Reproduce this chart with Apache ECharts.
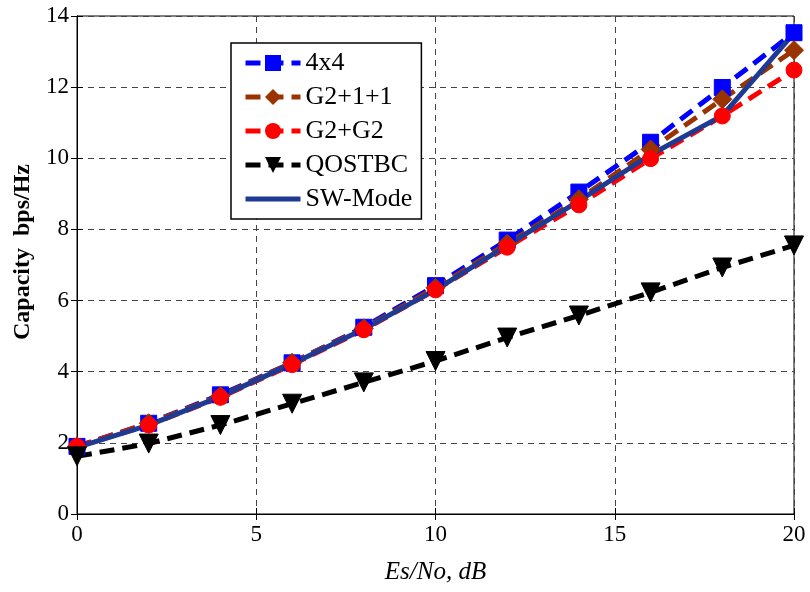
<!DOCTYPE html>
<html>
<head>
<meta charset="utf-8">
<script src="https://cdn.jsdelivr.net/npm/echarts@6/dist/echarts.min.js"></script>
<style>
  html, body { margin: 0; padding: 0; background: #fff; }
  #chart { width: 810px; height: 592px; }
</style>
</head>
<body>
<div id="chart"></div>
<script>
// Es/No sweep (dB)
const esNo = [0, 2, 4, 6, 8, 10, 12, 14, 16, 18, 20];

// Capacity (bps/Hz) per scheme
const cap4x4    = [1.90, 2.55, 3.35, 4.25, 5.25, 6.42, 7.70, 9.05, 10.45, 11.99, 13.53];
const capG211   = [1.90, 2.55, 3.32, 4.25, 5.22, 6.36, 7.60, 8.85, 10.25, 11.66, 13.04];
const capG2G2   = [1.90, 2.50, 3.28, 4.20, 5.18, 6.30, 7.50, 8.69, 9.99, 11.19, 12.48];
const capQOSTBC = [1.62, 1.98, 2.50, 3.10, 3.70, 4.30, 4.96, 5.58, 6.23, 6.93, 7.55];
const capSW     = [1.87, 2.50, 3.30, 4.22, 5.20, 6.30, 7.55, 8.80, 10.10, 11.20, 13.52];

const seriesNames = ['4x4', 'G2+1+1', 'G2+G2', 'QOSTBC', 'SW-Mode'];

const xTicks = { min: 0, max: 20, interval: 5 };
const yTicks = { min: 0, max: 14, interval: 2 };

const pairs = ys => esNo.map((x, i) => [x, ys[i]]);
const serif = '"Times New Roman", "Liberation Serif", serif';
const dash = [15, 8];

function lineSeries(name, ys, color, symbol, size, dashed, rotate) {
  return {
    name, type: 'line', data: pairs(ys),
    symbol, symbolSize: size, symbolRotate: rotate || 0,
    lineStyle: { color, width: 5, type: dashed ? dash : 'solid' },
    itemStyle: { color, borderColor: color },
    z: 3
  };
}

const chart = echarts.init(document.getElementById('chart'));
chart.setOption({
  animation: false,
  backgroundColor: '#fff',
  grid: {
    left: 77, right: 16, top: 16, bottom: 78,
    show: true, borderColor: '#000', borderWidth: 1, backgroundColor: 'transparent'
  },
  legend: {
    data: seriesNames.map(n => n === 'SW-Mode' ? { name: n, itemStyle: { opacity: 0 } } : { name: n }),
    orient: 'vertical',
    left: 231, top: 43,
    padding: [6, 9, 6, 12],
    itemGap: 6,
    itemWidth: 55, itemHeight: 20,
    lineStyle: { width: 5 },
    backgroundColor: '#fff',
    borderColor: '#000', borderWidth: 1.5,
    textStyle: { fontFamily: serif, fontSize: 26, lineHeight: 28, color: '#000' }
  },
  xAxis: [{
    type: 'value', ...xTicks,
    name: 'Es/No, dB', nameLocation: 'middle', nameGap: 46,
    nameTextStyle: { fontFamily: serif, fontSize: 25, fontStyle: 'italic', color: '#000' },
    axisLine: { show: true, lineStyle: { color: '#000', width: 1 } },
    axisTick: { show: true, inside: true, length: 6, lineStyle: { color: '#000' } },
    axisLabel: { fontFamily: serif, fontSize: 23, color: '#000', margin: 9 },
    splitLine: { show: true, lineStyle: { color: '#444', width: 1, type: [6, 5] } }
  }, {
    type: 'value', ...xTicks, position: 'top',
    axisLine: { show: true, lineStyle: { color: '#000' } },
    axisTick: { show: true, inside: true, length: 6, lineStyle: { color: '#000' } },
    axisLabel: { show: false }, splitLine: { show: false }
  }],
  yAxis: [{
    type: 'value', ...yTicks,
    name: 'Capacity  bps/Hz', nameLocation: 'middle', nameGap: 40,
    nameTextStyle: { fontFamily: serif, fontSize: 24, fontWeight: 'bold', color: '#000', padding: [0, 0, 0, 26] },
    axisLine: { show: true, lineStyle: { color: '#000', width: 1 } },
    axisTick: { show: true, inside: true, length: 6, lineStyle: { color: '#000' } },
    axisLabel: { fontFamily: serif, fontSize: 23, color: '#000', margin: 8 },
    splitLine: { show: true, lineStyle: { color: '#444', width: 1, type: [6, 5] } }
  }, {
    type: 'value', ...yTicks, position: 'right',
    axisLine: { show: true, lineStyle: { color: '#000' } },
    axisTick: { show: true, inside: true, length: 6, lineStyle: { color: '#000' } },
    axisLabel: { show: false }, splitLine: { show: false }
  }],
  series: [
    lineSeries('4x4', cap4x4, '#0000ff', 'rect', 16, true),
    lineSeries('G2+1+1', capG211, '#993300', 'diamond', 19, true),
    lineSeries('G2+G2', capG2G2, '#ff0000', 'circle', 16, true),
    lineSeries('QOSTBC', capQOSTBC, '#000000', 'triangle', 19, true, 180),
    lineSeries('SW-Mode', capSW, '#1f3a93', 'none', 0, false)
  ]
});
</script>
</body>
</html>
